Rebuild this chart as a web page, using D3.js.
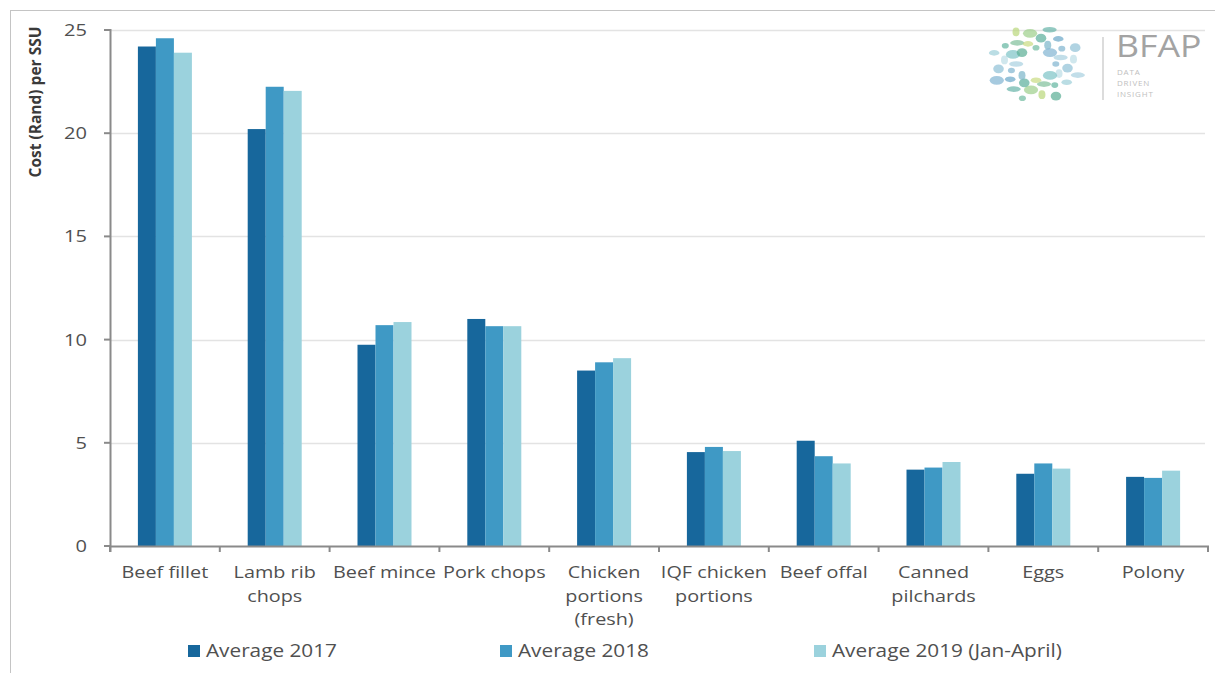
<!DOCTYPE html>
<html>
<head>
<meta charset="utf-8">
<script src="https://cdn.jsdelivr.net/npm/d3@7"></script>
<style>
  html, body { margin: 0; padding: 0; background: #fff; }
  svg { display: block; }
</style>
</head>
<body>
<svg id="chart" width="1215" height="673"></svg>
<script>
// ---- data ----
const categories = ["Beef fillet", "Lamb rib chops", "Beef mince", "Pork chops", "Chicken portions (fresh)",
  "IQF chicken portions", "Beef offal", "Canned pilchards", "Eggs", "Polony"];
const categoryLines = [["Beef fillet"], ["Lamb rib", "chops"], ["Beef mince"], ["Pork chops"],
  ["Chicken", "portions", "(fresh)"], ["IQF chicken", "portions"], ["Beef offal"], ["Canned", "pilchards"],
  ["Eggs"], ["Polony"]];
const seriesNames = ["Average 2017", "Average 2018", "Average 2019 (Jan-April)"];
const avg2017 = [24.2, 20.2, 9.75, 11.0, 8.5, 4.55, 5.1, 3.7, 3.5, 3.35];
const avg2018 = [24.6, 22.25, 10.7, 10.65, 8.9, 4.8, 4.35, 3.8, 4.0, 3.3];
const avg2019 = [23.9, 22.05, 10.85, 10.65, 9.1, 4.6, 4.0, 4.07, 3.75, 3.65];
const yTicks = [0, 5, 10, 15, 20, 25];
const yLabel = "Cost (Rand) per SSU";
const colors = ["#17679c", "#3f99c5", "#9bd2dd"];

const seriesValues = [avg2017, avg2018, avg2019];
const svg = d3.select("#chart");
const FONT = "'Open Sans', sans-serif";
const SX = 1.18; // horizontal stretch seen in reference text
const TXT = "#505050";

// frame
svg.append("line").attr("x1", 10).attr("x2", 1215).attr("y1", 10.5).attr("y2", 10.5).attr("stroke", "#c4c4c4");
svg.append("line").attr("x1", 10.5).attr("x2", 10.5).attr("y1", 10).attr("y2", 673).attr("stroke", "#c4c4c4");

const x = d3.scaleBand().domain(categories).range([110, 1208]).padding(0);
const x1 = d3.scaleBand().domain(seriesNames)
  .range([x.bandwidth() / 2 - 27, x.bandwidth() / 2 + 27]).padding(0);
const y = d3.scaleLinear().domain([0, 25]).range([546, 30]);

// gridlines
svg.append("g").selectAll("line").data(yTicks.filter(d => d > 0)).join("line")
  .attr("x1", 111).attr("x2", 1205)
  .attr("y1", d => Math.round(y(d)) + 0.5).attr("y2", d => Math.round(y(d)) + 0.5)
  .attr("stroke", "#e3e3e3").attr("stroke-width", 1.5);

// logo (decorative)
const logo = svg.append("g");
const logoCx = 1036, logoCy = 64;
const ringColors = ["#7fb3cf", "#8fc0d6", "#a8d0df", "#bcdde6", "#9ccfd9", "#7cc3c6", "#62b59f", "#5aae94",
  "#7fbf9a", "#b9d77a", "#c9dc82", "#9dcf8a", "#6fbaa0", "#5aae9a", "#66b3a8", "#7ab5c9", "#6aa7c8", "#80b4d2"];
for (let i = 0; i < 40; i++) {
  const a = (i / 40) * 2 * Math.PI;
  const rr = 0.45 + 0.55 * ((i * 7) % 5) / 4;
  logo.append("ellipse")
    .attr("cx", logoCx + Math.cos(a) * 44 * rr)
    .attr("cy", logoCy + Math.sin(a) * 36 * rr)
    .attr("rx", 3.5 + (i % 3) * 1.8).attr("ry", 2.8 + (i % 2) * 1.6)
    .attr("fill", ringColors[i % ringColors.length]).attr("opacity", 0.7);
}
logo.append("line").attr("x1", 1103).attr("x2", 1103).attr("y1", 37).attr("y2", 100)
  .attr("stroke", "#d0d0d0").attr("stroke-width", 1.5);
logo.append("text").attr("transform", "translate(1116,57) scale(1.15,1)")
  .attr("font-family", FONT).attr("font-size", 31).attr("fill", "#a3a3a3").text("BFAP");
["DATA", "DRIVEN", "INSIGHT"].forEach((t, i) => {
  logo.append("text").attr("x", 1117).attr("y", 75 + i * 11)
    .attr("font-family", FONT).attr("font-size", 8).attr("fill", "#c0c0c0")
    .attr("letter-spacing", 0.8).text(t);
});

// bars
const groups = svg.append("g").selectAll("g").data(categories).join("g")
  .attr("transform", d => `translate(${x(d)},0)`);
groups.selectAll("rect")
  .data((d, i) => seriesNames.map((s, k) => ({ s, k, v: seriesValues[k][i] })))
  .join("rect")
  .attr("x", d => x1(d.s))
  .attr("width", x1.bandwidth())
  .attr("y", d => y(d.v))
  .attr("height", d => y(0) - y(d.v))
  .attr("fill", d => colors[d.k]);

// y axis
const axisColor = "#8a8a8a";
svg.append("line").attr("x1", 110.5).attr("x2", 110.5).attr("y1", y(25) - 1).attr("y2", 552)
  .attr("stroke", axisColor).attr("stroke-width", 2);
svg.append("g").selectAll("line").data(yTicks).join("line")
  .attr("x1", 104).attr("x2", 110).attr("y1", d => y(d)).attr("y2", d => y(d))
  .attr("stroke", axisColor).attr("stroke-width", 2);
svg.append("g").selectAll("text").data(yTicks).join("text")
  .attr("transform", d => `translate(87,${y(d) + 6}) scale(${SX},1)`)
  .attr("text-anchor", "end")
  .attr("font-family", FONT).attr("font-size", 17).attr("fill", TXT)
  .text(d => d);

// x axis
svg.append("line").attr("x1", 110).attr("x2", 1209).attr("y1", 546.5).attr("y2", 546.5)
  .attr("stroke", axisColor).attr("stroke-width", 2);
const boundaries = categories.map(c => x(c)).concat([x.range()[1]]);
svg.append("g").selectAll("line").data(boundaries).join("line")
  .attr("x1", d => d).attr("x2", d => d).attr("y1", 546).attr("y2", 552)
  .attr("stroke", axisColor).attr("stroke-width", 2);

// category labels
const labels = svg.append("g").selectAll("g").data(categories).join("g");
labels.each(function (c, i) {
  const g = d3.select(this);
  categoryLines[i].forEach((line, j) => {
    g.append("text")
      .attr("transform", `translate(${x(c) + x.bandwidth() / 2},${578 + j * 23.5}) scale(${SX},1)`)
      .attr("text-anchor", "middle")
      .attr("font-family", FONT).attr("font-size", 16.8).attr("fill", TXT)
      .text(line);
  });
});

// y label
svg.append("text")
  .attr("transform", `translate(41,102) rotate(-90)`)
  .attr("text-anchor", "middle")
  .attr("font-family", FONT).attr("font-size", 15.5).attr("font-weight", "bold").attr("fill", "#3a3a3a")
  .text(yLabel);

// legend
const legendX = [188, 500, 814];
const legend = svg.append("g").selectAll("g").data(seriesNames).join("g")
  .attr("transform", (d, i) => `translate(${legendX[i]},0)`);
legend.append("rect").attr("x", 0).attr("y", 645).attr("width", 12).attr("height", 12)
  .attr("fill", (d, i) => colors[i]);
legend.append("text")
  .attr("transform", `translate(18,657) scale(1.2,1)`)
  .attr("font-family", FONT).attr("font-size", 17.3).attr("fill", TXT)
  .text(d => d);
</script>
</body>
</html>
